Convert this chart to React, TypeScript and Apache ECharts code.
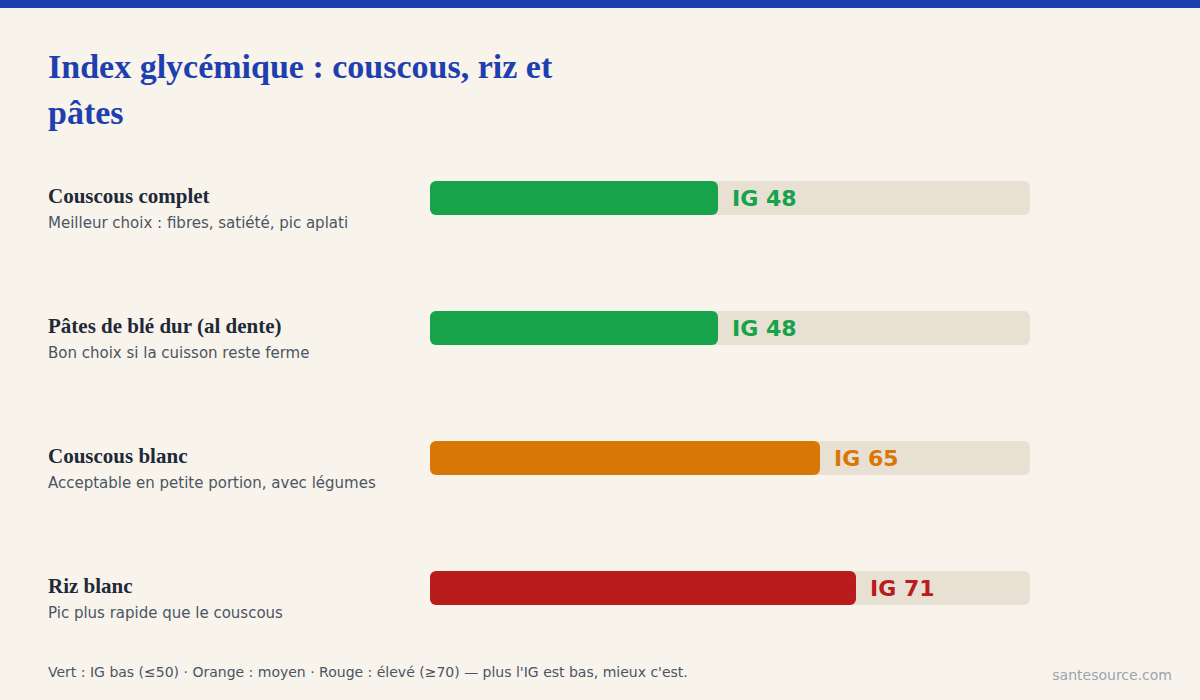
import React, { useEffect, useRef } from "react";
import * as echarts from "echarts";

const categories = ["Couscous complet", "Pâtes de blé dur (al dente)", "Couscous blanc", "Riz blanc"];
const descriptions = [
  "Meilleur choix : fibres, satiété, pic aplati",
  "Bon choix si la cuisson reste ferme",
  "Acceptable en petite portion, avec légumes",
  "Pic plus rapide que le couscous",
];
const values = [48, 48, 65, 71];
const barColors = ["#16a34a", "#16a34a", "#d97706", "#b91c1c"];
const titleText = "Index glycémique : couscous, riz et\npâtes";
const footerText = "Vert : IG bas (≤50) · Orange : moyen · Rouge : élevé (≥70) — plus l'IG est bas, mieux c'est.";
const sourceText = "santesource.com";

export default function App() {
  const ref = useRef<HTMLDivElement>(null);
  useEffect(() => {
    if (!ref.current) return;
    const chart = echarts.init(ref.current, null, { renderer: "svg" });
    chart.setOption({
      animation: false,
      backgroundColor: "#f8f4ec",
      title: {
        text: titleText,
        left: 48,
        top: 43,
        padding: 0,
        textStyle: {
          fontFamily: "Liberation Serif",
          fontWeight: "bold",
          fontSize: 34,
          lineHeight: 46,
          color: "#1e40af",
        },
      },
      grid: { left: 430, width: 600, top: 133, height: 520 },
      xAxis: {
        type: "value",
        min: 0,
        max: 100,
        show: false,
      },
      yAxis: {
        type: "category",
        data: categories,
        inverse: true,
        axisLine: { show: false },
        axisTick: { show: false },
        splitLine: { show: false },
        axisLabel: {
          align: "left",
          margin: 382,
          padding: [24, 0, 0, 0],
          formatter: (v: string, i: number) => `{n|${v}}\n{d|${descriptions[i]}}`,
          rich: {
            n: {
              fontFamily: "Liberation Serif",
              fontWeight: "bold",
              fontSize: 21,
              color: "#1f2937",
              lineHeight: 26,
            },
            d: {
              fontFamily: "DejaVu Sans",
              fontSize: 15,
              color: "#4b5563",
              lineHeight: 28,
            },
          },
        },
      },
      series: [
        {
          type: "bar",
          barWidth: 34,
          data: values.map((v, i) => ({
            value: v,
            itemStyle: { color: barColors[i], borderRadius: 6 },
            label: { color: barColors[i] },
          })),
          showBackground: true,
          backgroundStyle: { color: "#e8e0d3", borderRadius: 6 },
          label: {
            show: true,
            position: "right",
            distance: 14,
            formatter: (p: any) => `IG ${p.value}`,
            fontFamily: "DejaVu Sans",
            fontWeight: "bold",
            fontSize: 22,
          },
        },
      ],
      graphic: [
        { type: "rect", left: 0, top: 0, shape: { width: 1200, height: 8 }, style: { fill: "#1e40af" } },
        {
          type: "text",
          left: 48,
          top: 665,
          style: { text: footerText, fontFamily: "DejaVu Sans", fontSize: 14, fill: "#4b5563" },
        },
        {
          type: "text",
          right: 28,
          top: 668,
          style: { text: sourceText, fontFamily: "DejaVu Sans", fontSize: 14, fill: "#9ca3af" },
        },
      ],
    });
    return () => chart.dispose();
  }, []);
  return <div ref={ref} style={{ width: 1200, height: 700, position: "fixed", left: 0, top: 0 }} />;
}
